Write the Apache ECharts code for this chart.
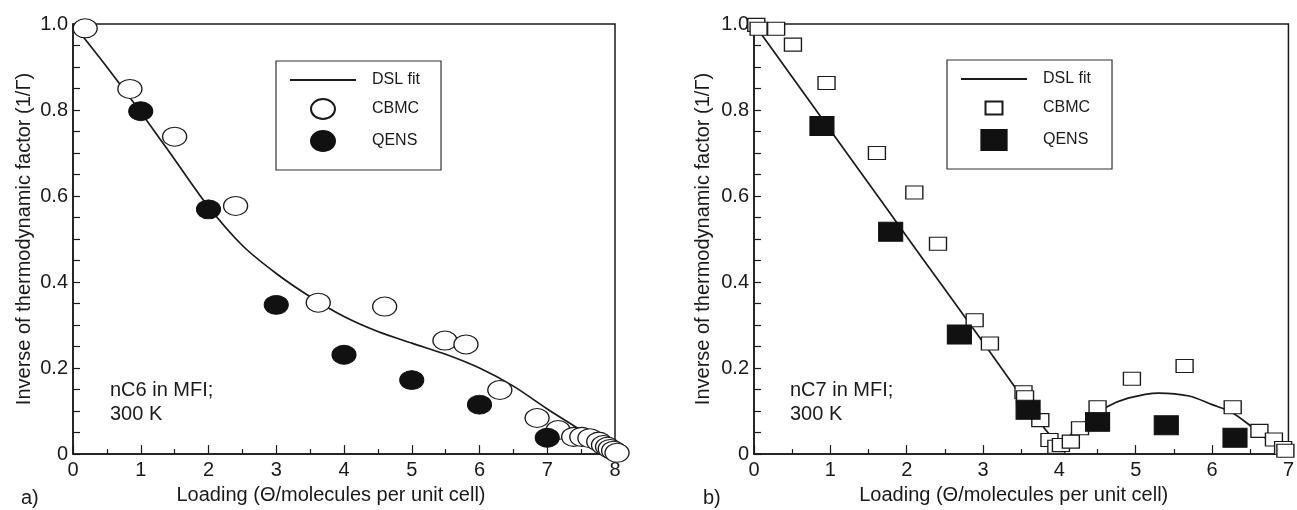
<!DOCTYPE html>
<html><head><meta charset="utf-8">
<script src="https://cdn.jsdelivr.net/npm/echarts@6/dist/echarts.min.js"></script>
<style>html,body{margin:0;padding:0;background:#fff}#c{width:1297px;height:510px}</style>
</head><body><div id="c"></div>
<script>
// ---- Panel a) nC6 in MFI ----
const aFitX = [0, 0.5, 1, 1.5, 2, 2.5, 3, 3.5, 4, 4.5, 5, 5.5, 6, 6.5, 7, 7.5, 8];
const aFitY = [1.0, 0.9, 0.795, 0.685, 0.575, 0.485, 0.42, 0.366, 0.32, 0.285, 0.258, 0.232, 0.2, 0.158, 0.105, 0.055, 0.0];
const aCbmcX = [0.18, 0.84, 1.50, 2.40, 3.62, 4.60, 5.49, 5.80, 6.30, 6.85, 7.16, 7.39, 7.51, 7.63, 7.76, 7.83, 7.89, 7.93, 7.98, 8.03];
const aCbmcY = [0.99, 0.849, 0.738, 0.577, 0.352, 0.343, 0.264, 0.255, 0.149, 0.084, 0.056, 0.040, 0.040, 0.037, 0.029, 0.021, 0.017, 0.012, 0.008, 0.003];
const aQensX = [1, 2, 3, 4, 5, 6, 7];
const aQensY = [0.797, 0.569, 0.347, 0.231, 0.172, 0.115, 0.038];

// ---- Panel b) nC7 in MFI ----
const bFitX = [0, 0.5, 1, 1.5, 2, 2.5, 3, 3.4, 3.7, 3.85, 4.0, 4.15, 4.3, 4.6, 4.9, 5.3, 5.7, 6.0, 6.25, 6.5, 6.75, 6.95];
const bFitY = [1.0, 0.877, 0.753, 0.63, 0.506, 0.383, 0.26, 0.16, 0.085, 0.05, 0.025, 0.045, 0.07, 0.108, 0.13, 0.142, 0.135, 0.115, 0.098, 0.066, 0.03, 0.0];
const bCbmcX = [0.03, 0.06, 0.29, 0.51, 0.95, 1.61, 2.10, 2.41, 2.89, 3.09, 3.53, 3.55, 3.75, 3.87, 3.96, 4.02, 4.15, 4.27, 4.50, 4.95, 5.64, 6.27, 6.62, 6.81, 6.93, 6.96];
const bCbmcY = [0.998, 0.989, 0.989, 0.952, 0.863, 0.700, 0.608, 0.489, 0.311, 0.257, 0.144, 0.132, 0.079, 0.033, 0.017, 0.021, 0.029, 0.060, 0.109, 0.175, 0.205, 0.109, 0.054, 0.034, 0.014, 0.008];
const bQensX = [0.89, 1.79, 2.69, 3.59, 4.50, 5.40, 6.30];
const bQensY = [0.763, 0.517, 0.278, 0.103, 0.075, 0.067, 0.038];

// ---- Texts ----
const xTitle = 'Loading (Θ/molecules per unit cell)';
const yTitle = 'Inverse of thermodynamic factor (1/Γ)';
const legendNames = ['DSL fit', 'CBMC', 'QENS'];

const zip = (xs, ys) => xs.map((x, i) => [x, ys[i]]);
const FONT = "'Liberation Sans', Arial, Helvetica, sans-serif";
const INK = '#1a1a1a';
const FILL = '#111';

function mkX(gi, max, padR) {
  return {
    type: 'value', gridIndex: gi, min: 0, max: max, interval: 1,
    name: xTitle, nameLocation: 'middle', nameGap: 30,
    nameTextStyle: { fontFamily: FONT, fontSize: 20, color: INK, padding: [0, padR, 0, 0] },
    axisLine: { show: true, lineStyle: { color: INK, width: 1.5 } },
    axisTick: { show: true, inside: true, length: 9, lineStyle: { color: INK, width: 1.2 } },
    minorTick: { show: true, splitNumber: 2, length: 5, lineStyle: { color: INK, width: 1.2 } },
    axisLabel: { fontFamily: FONT, fontSize: 20, color: INK, margin: 6 },
    splitLine: { show: false }
  };
}
function mkY(gi, gap) {
  return {
    type: 'value', gridIndex: gi, min: 0, max: 1, interval: 0.2,
    name: yTitle, nameLocation: 'middle', nameGap: gap,
    nameTextStyle: { fontFamily: FONT, fontSize: 20, color: INK },
    axisLine: { show: true, lineStyle: { color: INK, width: 1.5 } },
    axisTick: { show: true, inside: true, length: 7, lineStyle: { color: INK, width: 1.2 } },
    minorTick: { show: true, splitNumber: 4, length: 7, lineStyle: { color: INK, width: 1.2 } },
    axisLabel: { fontFamily: FONT, fontSize: 20, color: INK, margin: 5,
      formatter: v => (v === 0 ? '0' : v.toFixed(1)) },
    splitLine: { show: false }
  };
}

const ICON_LINE = 'path://M0,0h66v1.8h-66z';
const ICON_ELLIPSE = 'path://M0,10a12,10 0 1,0 24,0a12,10 0 1,0 -24,0z';
const ICON_OPEN_SQ = 'path://M0,0M24,20M3.5,3.5h17v13h-17z';
const ICON_FILL_SQ = 'path://M0,0h24v19h-24z';

function mkLegend(left, top, suffix, icons) {
  return {
    orient: 'vertical', left: left, top: top,
    padding: [11, 21, 18, 14], itemGap: 10,
    itemWidth: 66, itemHeight: 20,
    borderColor: '#333', borderWidth: 1.2, backgroundColor: '#fff',
    selectedMode: false,
    formatter: n => n.replace(suffix, ''),
    textStyle: { fontFamily: FONT, fontSize: 16, color: INK, padding: [0, 0, 0, 11] },
    data: [
      { name: legendNames[0] + suffix, icon: ICON_LINE, itemStyle: { color: INK, borderWidth: 0 } },
      { name: legendNames[1] + suffix, icon: icons[0] },
      { name: legendNames[2] + suffix, icon: icons[1] }
    ]
  };
}

const SB = ' (b)';
const option = {
  animation: false,
  backgroundColor: '#fff',
  grid: [
    { left: 73, top: 24, width: 542, height: 435, show: true, borderColor: INK, borderWidth: 1.5, backgroundColor: 'transparent' },
    { left: 754, top: 24, width: 541, height: 435, show: true, borderColor: INK, borderWidth: 1.5, backgroundColor: 'transparent' }
  ],
  xAxis: [mkX(0, 8, 26), mkX(1, 7, 15)],
  yAxis: [mkY(0, 39), mkY(1, 41)],
  legend: [
    mkLegend(276, 61, '', [ICON_ELLIPSE, ICON_ELLIPSE]),
    mkLegend(947, 60, SB, [ICON_OPEN_SQ, ICON_FILL_SQ])
  ],
  series: [
    { name: legendNames[0], type: 'line', xAxisIndex: 0, yAxisIndex: 0, data: zip(aFitX, aFitY),
      symbol: 'none', showSymbol: false, smooth: 0.3, lineStyle: { color: INK, width: 1.7 }, itemStyle: { color: INK }, z: 2 },
    { name: legendNames[1], type: 'scatter', xAxisIndex: 0, yAxisIndex: 0, data: zip(aCbmcX, aCbmcY),
      symbol: 'circle', symbolSize: [24, 19], clip: false,
      itemStyle: { color: '#fff', borderColor: INK, borderWidth: 1.2, opacity: 1 }, z: 3 },
    { name: legendNames[2], type: 'scatter', xAxisIndex: 0, yAxisIndex: 0, data: zip(aQensX, aQensY),
      symbol: 'circle', symbolSize: [24, 19], clip: false,
      itemStyle: { color: FILL, borderColor: FILL, borderWidth: 1, opacity: 1 }, z: 4 },

    { name: legendNames[0] + SB, type: 'line', xAxisIndex: 1, yAxisIndex: 1, data: zip(bFitX, bFitY),
      symbol: 'none', showSymbol: false, smooth: 0.3, lineStyle: { color: INK, width: 1.7 }, itemStyle: { color: INK }, z: 2 },
    { name: legendNames[1] + SB, type: 'scatter', xAxisIndex: 1, yAxisIndex: 1, data: zip(bCbmcX, bCbmcY),
      symbol: 'rect', symbolSize: [17, 13], clip: false,
      itemStyle: { color: '#fff', borderColor: INK, borderWidth: 1.2, opacity: 1 }, z: 3 },
    { name: legendNames[2] + SB, type: 'scatter', xAxisIndex: 1, yAxisIndex: 1, data: zip(bQensX, bQensY),
      symbol: 'rect', symbolSize: [24, 19], clip: false,
      itemStyle: { color: FILL, borderColor: FILL, borderWidth: 1, opacity: 1 }, z: 4 }
  ],
  graphic: [
    { type: 'text', left: 110, top: 378, style: { text: 'nC6 in MFI;\n300 K', fontFamily: FONT, fontSize: 20, lineHeight: 24.5, fill: INK } },
    { type: 'text', left: 790, top: 378, style: { text: 'nC7 in MFI;\n300 K', fontFamily: FONT, fontSize: 20, lineHeight: 24.5, fill: INK } },
    { type: 'text', left: 21, top: 488, style: { text: 'a)', fontFamily: FONT, fontSize: 20, fill: INK } },
    { type: 'text', left: 703, top: 488, style: { text: 'b)', fontFamily: FONT, fontSize: 20, fill: INK } }
  ]
};

const chart = echarts.init(document.getElementById('c'), null, { renderer: 'canvas' });
chart.setOption(option);
</script>
</body></html>
